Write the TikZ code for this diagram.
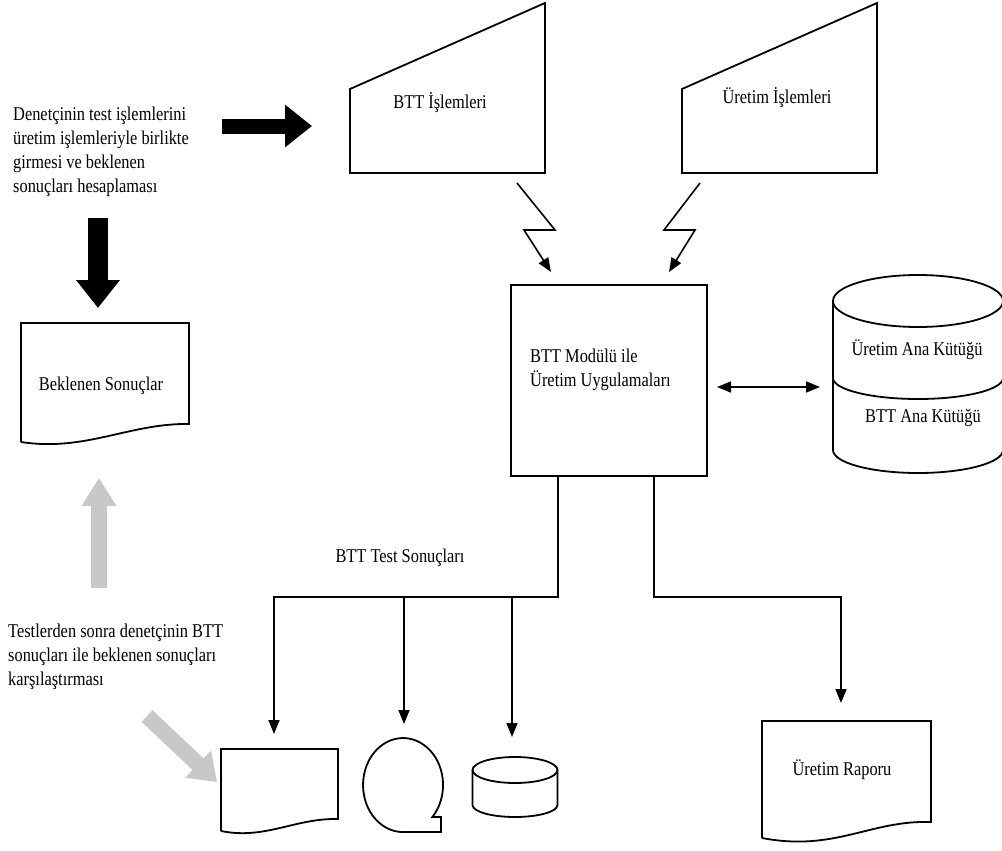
\documentclass[tikz,border=0pt]{standalone}
\usepackage{fontspec}
\setmainfont{Liberation Serif}[FakeStretch=0.84]
\usetikzlibrary{arrows.meta}
\definecolor{blockgrey}{RGB}{200,200,200}

\begin{document}
\begin{tikzpicture}[x=1pt,y=-1pt,
  outline/.style={line width=1.8pt, line join=miter},
  flow/.style={line width=1.6pt, -{Triangle[length=14pt,width=11pt]}},
  twoway/.style={line width=1.6pt, {Triangle[length=14pt,width=11pt]}-{Triangle[length=14pt,width=11pt]}},
  txt/.style={inner sep=0pt, font=\fontsize{19.5}{24}\selectfont},
  fatarrow/.style n args={4}{line width=#1, draw=#4, -{Triangle[length=#2,width=#3,fill=#4]}},
]
\useasboundingbox (0,0) rectangle (1002,851);

% ---------- notes on the left ----------
\node[txt, anchor=north west, align=left] (note-in) at (13,107)
  {Denetçinin test işlemlerini\\üretim işlemleriyle birlikte\\girmesi ve beklenen\\sonuçları hesaplaması};
\node[txt, anchor=north west, align=left] (note-cmp) at (8,624)
  {Testlerden sonra denetçinin BTT\\sonuçları ile beklenen sonuçları\\karşılaştırması};

% ---------- manual input shapes ----------
\draw[outline] (350,89) -- (545,3) -- (545,173) -- (350,173) -- cycle;
\node[txt] (btt-in) at (440,103) {BTT İşlemleri};
\draw[outline] (682,89) -- (877,3) -- (877,173) -- (682,173) -- cycle;
\node[txt] (prod-in) at (777,98) {Üretim İşlemleri};

% ---------- processing box ----------
\node[outline, draw, minimum width=196pt, minimum height=191pt, inner sep=0pt] (app) at (609,380.5) {};
\node[txt, anchor=west, align=left] (app-text) at (530,370) {BTT Modülü ile\\Üretim Uygulamaları};

% ---------- master file cylinder ----------
\draw[outline] (918,301) ellipse[x radius=85pt, y radius=26pt];
\draw[outline] (833,301) -- (833,450) arc[start angle=180,end angle=360,x radius=85pt,y radius=23pt] -- (1003,301);
\draw[outline] (833,378) arc[start angle=180,end angle=360,x radius=85pt,y radius=21pt];
\node[txt] (master1) at (917,350) {Üretim Ana Kütüğü};
\node[txt] (master2) at (923,418) {BTT Ana Kütüğü};
\coordinate (master-w) at (820,387);
\coordinate (app-e) at (717,387);

% ---------- expected results document ----------
\draw[outline] (21,442) -- (21,323) -- (189,323) -- (189,424)
  .. controls (130,423) and (85,452) .. (21,442);
\node[txt] (expected) at (101,386) {Beklenen Sonuçlar};

% ---------- output documents and media ----------
\draw[outline] (221,831) -- (221,749) -- (338,749) -- (338,819)
  .. controls (295,818) and (265,840) .. (221,831);
\coordinate (doc-out) at (274,734);

\draw[outline] (432.3,817.1) arc[start angle=-43,end angle=270,x radius=40pt,y radius=47pt]
  -- (441,832) -- (441,817) -- cycle;
\coordinate (tape-out) at (404,724);

\draw[outline] (515,770) ellipse[x radius=42.5pt, y radius=13pt];
\draw[outline] (472.5,770) -- (472.5,805) arc[start angle=180,end angle=360,x radius=42.5pt,y radius=12pt] -- (557.5,770);
\coordinate (disk-out) at (512,737);

\draw[outline] (762,838) -- (762,721) -- (931,721) -- (931,822)
  .. controls (870,820) and (835,852) .. (762,838);
\node[txt] (report) at (842,770) {Üretim Raporu};
\coordinate (report-in) at (841,703);

\node[txt] (test-results) at (400,558) {BTT Test Sonuçları};

% ---------- lightning links into the application ----------
\draw[flow, line join=miter] (517,183) -- (555,230) -- (524,230) -- (551,272);
\draw[flow, line join=miter] (700,183) -- (664,230) -- (695,230) -- (669,272);

% ---------- data flows ----------
\draw[twoway] (app-e) -- (master-w);
\coordinate (app-s1) at (558,476);
\coordinate (app-s2) at (654,476);
\coordinate (bus-l) at (274,597);
\coordinate (bus-r) at (841,597);
\draw[flow] (app-s1) -- (558,597) -- (bus-l) -- (doc-out);
\draw[flow] (404,597) -- (tape-out);
\draw[flow] (512,597) -- (disk-out);
\draw[flow] (app-s2) -- (654,597) -- (bus-r) -- (report-in);

% ---------- block arrows ----------
\coordinate (fa1s) at (222,126); \coordinate (fa1e) at (312,126);
\draw[fatarrow={15pt}{27pt}{41pt}{black}] (fa1s) -- (fa1e);
\coordinate (fa2s) at (98,218); \coordinate (fa2e) at (98,308);
\draw[fatarrow={20pt}{28pt}{42pt}{black}] (fa2s) -- (fa2e);
\coordinate (fa3s) at (99,588); \coordinate (fa3e) at (99,478);
\draw[fatarrow={16pt}{28pt}{33pt}{blockgrey}] (fa3s) -- (fa3e);
\coordinate (fa4s) at (147,716); \coordinate (fa4e) at (217,782);
\draw[fatarrow={16pt}{26pt}{36pt}{blockgrey}] (fa4s) -- (fa4e);
\end{tikzpicture}
\end{document}
